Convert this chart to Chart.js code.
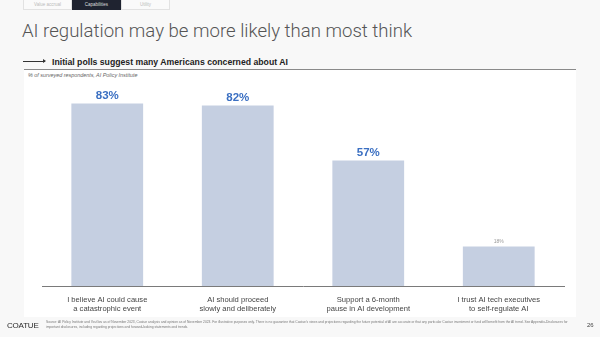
<!DOCTYPE html>
<html>
<head>
<meta charset="utf-8">
<script src="https://cdn.jsdelivr.net/npm/chart.js@4/dist/chart.umd.min.js"></script>
<style>
  html, body { margin: 0; padding: 0; }
  body { width: 600px; height: 337px; background: #f8f8f8; position: relative; overflow: hidden;
         font-family: "Liberation Sans", Arial, sans-serif; }
  .tabs { position: absolute; left: 23px; top: 0; height: 10px; display: flex; }
  .tab { width: 49px; height: 10px; box-sizing: border-box; border: 1px solid #e2e2e2; border-top: none;
         font-size: 4.5px; color: #bbb; text-align: center; line-height: 9px; background: #fafafa; }
  .tab.on { background: #1f2330; color: #ddd; border-color: #1f2330; }
  .title { position: absolute; left: 22px; top: 20px; font-family: Roboto, "Liberation Sans", sans-serif;
           font-weight: 300; font-size: 18.6px; color: #555; white-space: nowrap; }
  .sub { position: absolute; left: 23px; top: 57px; font-size: 8.7px; font-weight: bold; color: #222; white-space: nowrap; }
  .sub .arrow { display: inline-block; width: 22px; height: 1px; background: #333; vertical-align: middle;
                margin-right: 7px; position: relative; top: -1px; }
  .sub .arrow:after { content: ""; position: absolute; right: -1px; top: -2px; border-left: 3px solid #333;
                      border-top: 2.5px solid transparent; border-bottom: 2.5px solid transparent; }
  .panel { position: absolute; left: 24px; top: 69px; width: 552px; height: 248px; background: #fff;
           border-top: 1px solid #8a8a8a; box-sizing: border-box; }
  .note { position: absolute; left: 28px; top: 72px; font-size: 5.4px; font-style: italic; color: #666; white-space: nowrap; }
  canvas { position: absolute; left: 0; top: 0; }
  .logo { position: absolute; left: 7px; top: 321px; font-size: 8px; letter-spacing: -0.2px; color: #2a2a2a;
          font-family: "Liberation Sans Narrow", "Liberation Sans", sans-serif; }
  .src { position: absolute; left: 46px; top: 320px; width: 530px; font-size: 3.3px; line-height: 4.6px; color: #777; }
  .page { position: absolute; left: 587px; top: 322px; font-size: 6px; color: #444; }
</style>
</head>
<body>
<div class="tabs"><div class="tab">Value accrual</div><div class="tab on">Capabilities</div><div class="tab">Utility</div></div>
<div class="title">AI regulation may be more likely than most think</div>
<div class="sub"><span class="arrow"></span>Initial polls suggest many Americans concerned about AI</div>
<div class="panel"></div>
<div class="note">% of surveyed respondents, AI Policy Institute</div>
<canvas id="chart" width="600" height="337"></canvas>
<div class="logo">COATUE</div>
<div class="src">Source: AI Policy Institute and YouGov as of November 2023, Coatue analysis and opinion as of November 2023. For illustrative purposes only. There is no guarantee that Coatue's views and projections regarding the future potential of AI are accurate or that any particular Coatue investment or fund will benefit from the AI trend. See Appendix-Disclosures for important disclosures, including regarding projections and forward-looking statements and trends.</div>
<div class="page">26</div>
<script>
// Poll statements and share of respondents agreeing (%)
const categories = [
  ["I believe AI could cause", "a catastrophic event"],
  ["AI should proceed", "slowly and deliberately"],
  ["Support a 6-month", "pause in AI development"],
  ["I trust AI tech executives", "to self-regulate AI"]
];
const shareAgreeing = [83, 82, 57, 18];
const valueLabels = ["83%", "82%", "57%", "18%"];

// Writes the value above each bar; the last statement is shown muted
const barValueLabels = {
  id: "barValueLabels",
  afterDatasetsDraw(chart) {
    const ctx = chart.ctx;
    const bars = chart.getDatasetMeta(0).data;
    ctx.save();
    ctx.textAlign = "center";
    ctx.textBaseline = "middle";
    bars.forEach((bar, i) => {
      const muted = i === bars.length - 1;
      ctx.fillStyle = muted ? "#9a9a9a" : "#3a6fc2";
      ctx.font = muted ? "5px 'Liberation Sans', Arial, sans-serif"
                       : "bold 11.5px 'Liberation Sans', Arial, sans-serif";
      ctx.fillText(valueLabels[i], bar.x, bar.y - (muted ? 4.5 : 7.5));
    });
    ctx.restore();
  }
};

new Chart(document.getElementById("chart"), {
  type: "bar",
  data: {
    labels: categories,
    datasets: [{
      data: shareAgreeing,
      backgroundColor: "#c5cfe1",
      borderWidth: 0,
      barPercentage: 0.55,
      categoryPercentage: 1
    }]
  },
  options: {
    responsive: false,
    animation: false,
    layout: { padding: { left: 42, right: 36, top: 66, bottom: 0 } },
    plugins: { legend: { display: false }, tooltip: { enabled: false } },
    scales: {
      x: {
        grid: { display: false },
        border: { display: true, color: "#7a7a7a", width: 1 },
        ticks: {
          color: "#444",
          padding: 1.5,
          maxRotation: 0,
          autoSkip: false,
          font: { family: "'Liberation Sans', Arial, sans-serif", size: 7.6, lineHeight: 1.2 }
        },
        afterFit(scale) { scale.height = 51; }
      },
      y: { display: false, min: 0, max: 100 }
    }
  },
  plugins: [barValueLabels]
});
</script>
</body>
</html>
